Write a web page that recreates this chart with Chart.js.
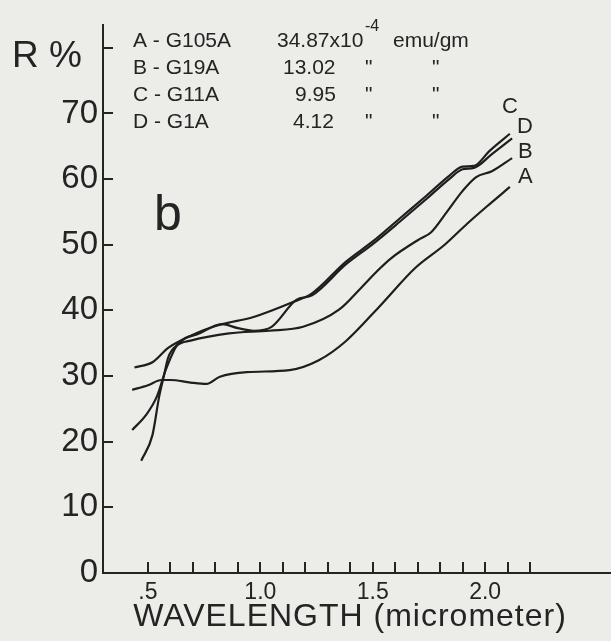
<!DOCTYPE html>
<html>
<head>
<meta charset="utf-8">
<script src="https://cdn.jsdelivr.net/npm/chart.js@4.4.1/dist/chart.umd.min.js"></script>
<style>
  html, body { margin: 0; padding: 0; background: #ecece9; }
  #wrap { width: 611px; height: 641px; }
</style>
</head>
<body>
<div id="wrap"><canvas id="myChart" width="611" height="641"></canvas></div>
<script>
// wavelength (micrometer) and reflectance R %
var lamA = [0.43, 0.50, 0.56, 0.60, 0.69, 0.76, 0.82, 0.94, 1.13, 1.26, 1.38, 1.53, 1.69, 1.82, 1.92, 2.01, 2.11];
var rA   = [27.9, 28.6, 29.4, 29.4, 29.0, 28.8, 29.9, 30.6, 30.9, 32.4, 35.3, 40.6, 46.5, 50.0, 53.2, 55.9, 58.8];

var lamB = [0.47, 0.52, 0.55, 0.57, 0.59, 0.63, 0.69, 0.86, 1.04, 1.19, 1.35, 1.45, 1.52, 1.58, 1.71, 1.76, 1.83, 1.90, 1.96, 2.03, 2.12];
var rB   = [17.1, 21.0, 26.9, 29.9, 32.8, 34.7, 35.4, 36.5, 36.9, 37.5, 40.1, 43.5, 46.0, 47.9, 50.9, 51.9, 55.0, 58.2, 60.3, 61.2, 63.2];

var lamC = [0.44, 0.52, 0.59, 0.64, 0.72, 0.79, 0.83, 0.97, 1.14, 1.23, 1.38, 1.50, 1.62, 1.74, 1.84, 1.90, 1.95, 2.02, 2.11];
var rC   = [31.3, 32.1, 34.3, 35.3, 36.6, 37.5, 37.9, 39.0, 41.2, 42.6, 47.4, 50.5, 54.0, 57.5, 60.5, 61.9, 62.0, 64.3, 66.9];

var lamD = [0.43, 0.49, 0.54, 0.58, 0.63, 0.73, 0.83, 0.90, 0.97, 1.05, 1.16, 1.23, 1.38, 1.50, 1.62, 1.74, 1.84, 1.90, 1.95, 2.03, 2.12];
var rD   = [21.8, 24.0, 26.9, 31.0, 34.7, 36.5, 37.9, 37.3, 36.9, 37.5, 41.6, 42.3, 47.0, 50.1, 53.5, 57.0, 60.0, 61.5, 61.7, 63.8, 66.2];

var curveNames = ["A", "B", "C", "D"];
var sampleNames = ["A - G105A", "B - G19A", "C - G11A", "D - G1A"];
var susceptibility = ["34.87x10", "13.02", "9.95", "4.12"];

var xTicks = [0.5, 0.6, 0.7, 0.8, 0.9, 1.0, 1.1, 1.2, 1.3, 1.4, 1.5, 1.6, 1.7, 1.8, 1.9, 2.0, 2.1, 2.2];
var xLabelVals = [0.5, 1.0, 1.5, 2.0];
var xLabelText = [".5", "1.0", "1.5", "2.0"];
var yTicks = [0, 10, 20, 30, 40, 50, 60, 70, 80];
var yLabelMax = 70;

var ink = "#242424";
var fontFam = "'Liberation Sans', Arial, sans-serif";

function pts(xs, ys) {
  return xs.map(function (x, i) { return { x: x, y: ys[i] }; });
}

var lineStyle = {
  borderColor: "#1e1e1e",
  borderWidth: 2.2,
  pointRadius: 0,
  fill: false,
  cubicInterpolationMode: "monotone",
};

// text drawn on the plot: R %, the sample table, panel letter, curve letters, axis title
var notes = {
  id: "notes",
  afterDraw: function (chart) {
    var ctx = chart.ctx;
    var xs = chart.scales.x, ys = chart.scales.y;
    var area = chart.chartArea;
    ctx.save();
    ctx.fillStyle = ink;
    ctx.strokeStyle = ink;

    // inward tick marks
    ctx.lineWidth = 2;
    xTicks.forEach(function (v) {
      var px = Math.round(xs.getPixelForValue(v));
      ctx.beginPath();
      ctx.moveTo(px, area.bottom);
      ctx.lineTo(px, area.bottom - 11);
      ctx.stroke();
    });
    yTicks.forEach(function (v) {
      var py = Math.round(ys.getPixelForValue(v));
      ctx.beginPath();
      ctx.moveTo(area.left, py);
      ctx.lineTo(area.left + 10, py);
      ctx.stroke();
    });

    ctx.textBaseline = "alphabetic";
    ctx.textAlign = "left";
    ctx.font = "37px " + fontFam;
    ctx.fillText("R %", 12, 67);

    ctx.font = "21px " + fontFam;
    var rowY = [47, 74, 101, 128];
    var valX = [277, 283, 295, 293];
    for (var i = 0; i < 4; i++) {
      ctx.fillText(sampleNames[i], 133, rowY[i]);
      ctx.fillText(susceptibility[i], valX[i], rowY[i]);
      if (i === 0) {
        ctx.font = "16px " + fontFam;
        ctx.fillText("-4", 365, 31);
        ctx.font = "21px " + fontFam;
        ctx.fillText("emu/gm", 393, rowY[i]);
      } else {
        ctx.fillText("\"", 365, rowY[i]);
        ctx.fillText("\"", 432, rowY[i]);
      }
    }

    ctx.font = "50px " + fontFam;
    ctx.fillText("b", 154, 230);

    ctx.font = "22px " + fontFam;
    ctx.fillText("C", 502, 113);
    ctx.fillText("D", 517, 133);
    ctx.fillText("B", 518, 158);
    ctx.fillText("A", 518, 183);

    ctx.font = "32px " + fontFam;
    ctx.textAlign = "center";
    ctx.letterSpacing = "1px";
    ctx.fillText("WAVELENGTH (micrometer)", 350, 626);
    ctx.restore();
  },
};

new Chart("myChart", {
  type: "line",
  data: {
    datasets: [
      Object.assign({ label: curveNames[0], data: pts(lamA, rA) }, lineStyle),
      Object.assign({ label: curveNames[1], data: pts(lamB, rB) }, lineStyle),
      Object.assign({ label: curveNames[2], data: pts(lamC, rC) }, lineStyle),
      Object.assign({ label: curveNames[3], data: pts(lamD, rD) }, lineStyle),
    ],
  },
  options: {
    responsive: false,
    animation: false,
    layout: { padding: { top: 5, left: 0, right: 0, bottom: 0 } },
    plugins: { legend: { display: false }, tooltip: { enabled: false } },
    scales: {
      x: {
        type: "linear",
        min: 0.3,
        max: 2.56,
        afterBuildTicks: function (s) {
          s.ticks = xTicks.map(function (v) { return { value: v }; });
        },
        afterFit: function (s) { s.height = 68; },
        grid: { display: true, drawOnChartArea: false, drawTicks: false },
        border: { display: true, color: ink, width: 2 },
        ticks: {
          autoSkip: false,
          maxRotation: 0,
          padding: 6,
          color: ink,
          font: { family: fontFam, size: 23 },
          callback: function (v) {
            for (var i = 0; i < xLabelVals.length; i++) {
              if (Math.abs(xLabelVals[i] - v) < 1e-6) return xLabelText[i];
            }
            return "";
          },
        },
      },
      y: {
        min: 0,
        max: 83.5,
        afterBuildTicks: function (s) {
          s.ticks = yTicks.map(function (v) { return { value: v }; });
        },
        afterFit: function (s) { s.width = 103; },
        grid: { display: true, drawOnChartArea: false, drawTicks: false },
        border: { display: true, color: ink, width: 2 },
        ticks: {
          padding: 5,
          color: ink,
          font: { family: fontFam, size: 33 },
          callback: function (v) { return v <= yLabelMax ? String(v) : ""; },
        },
      },
    },
  },
  plugins: [notes],
});
</script>
</body>
</html>
